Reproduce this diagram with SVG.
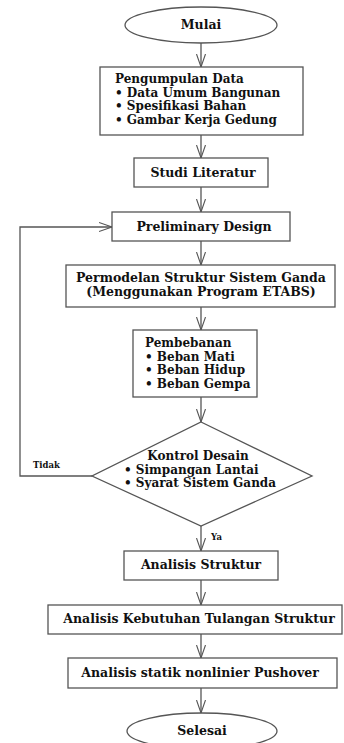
<svg xmlns="http://www.w3.org/2000/svg" width="344" height="743" viewBox="0 0 344 743">
<defs>
<marker id="arr" markerWidth="14" markerHeight="12" refX="13" refY="6" orient="auto" markerUnits="userSpaceOnUse">
<path d="M0,1.5 L13,6 L0,10.5" fill="none" stroke="#555" stroke-width="1.1"/>
</marker>
<style>
.s{fill:#fff;stroke:#555;stroke-width:1.3}
.c{fill:none;stroke:#555;stroke-width:1.3}
text{font-family:"DejaVu Serif","Liberation Serif",serif;font-weight:bold;font-size:12.5px;fill:#111}
.t{font-size:12px}
.m{text-anchor:middle}
.l{font-size:8.5px}
</style>
</defs>
<rect width="344" height="743" fill="#fff"/>
<g id="connectors">
<line class="c" x1="201" y1="43" x2="201" y2="67" marker-end="url(#arr)"/>
<line class="c" x1="201" y1="135" x2="201" y2="158" marker-end="url(#arr)"/>
<line class="c" x1="201" y1="187" x2="201" y2="212" marker-end="url(#arr)"/>
<line class="c" x1="201" y1="241" x2="201" y2="265" marker-end="url(#arr)"/>
<line class="c" x1="201" y1="307" x2="201" y2="330" marker-end="url(#arr)"/>
<line class="c" x1="201" y1="397" x2="201" y2="422" marker-end="url(#arr)"/>
<line class="c" x1="201" y1="526" x2="201" y2="551" marker-end="url(#arr)"/>
<line class="c" x1="201" y1="580" x2="201" y2="605" marker-end="url(#arr)"/>
<line class="c" x1="201" y1="634" x2="201" y2="658" marker-end="url(#arr)"/>
<line class="c" x1="201" y1="688" x2="201" y2="713" marker-end="url(#arr)"/>
<polyline class="c" points="92,476 20,476 20,227 112,227" marker-end="url(#arr)"/>
<text class="l" x="33" y="468">Tidak</text>
<text class="l" x="211" y="540">Ya</text>
</g>
<g id="mulai">
<ellipse class="s" cx="201" cy="25" rx="76" ry="18"/>
<text class="m" x="201" y="29">Mulai</text>
</g>
<g id="pengumpulan">
<rect class="s" x="100" y="67" width="203" height="68"/>
<text class="t" x="115" y="83">Pengumpulan Data</text>
<text class="t" x="115" y="96.5">• Data Umum Bangunan</text>
<text class="t" x="115" y="110">• Spesifikasi Bahan</text>
<text class="t" x="115" y="123.5">• Gambar Kerja Gedung</text>
</g>
<g id="studi">
<rect class="s" x="134" y="158" width="134" height="29"/>
<text class="m" x="203" y="177">Studi Literatur</text>
</g>
<g id="preliminary">
<rect class="s" x="112" y="212" width="178" height="29"/>
<text class="m" x="204" y="231">Preliminary Design</text>
</g>
<g id="permodelan">
<rect class="s" x="66" y="265" width="269" height="42"/>
<text class="m" x="201" y="282">Permodelan Struktur Sistem Ganda</text>
<text class="m" x="201" y="296">(Menggunakan Program ETABS)</text>
</g>
<g id="pembebanan">
<rect class="s" x="133" y="330" width="124" height="67"/>
<text class="t" x="145" y="347">Pembebanan</text>
<text class="t" x="145" y="360.5">• Beban Mati</text>
<text class="t" x="145" y="374">• Beban Hidup</text>
<text class="t" x="145" y="387.5">• Beban Gempa</text>
</g>
<g id="kontrol">
<polygon class="s" points="201,422 312,476 201,526 92,476"/>
<text class="t m" x="198" y="460">Kontrol Desain</text>
<text class="t" x="124" y="473.5">• Simpangan Lantai</text>
<text class="t" x="124" y="487">• Syarat Sistem Ganda</text>
</g>
<g id="analisis">
<rect class="s" x="124" y="551" width="154" height="29"/>
<text class="m" x="201" y="569">Analisis Struktur</text>
</g>
<g id="tulangan">
<rect class="s" x="48" y="605" width="294" height="29"/>
<text class="m" x="199" y="623">Analisis Kebutuhan Tulangan Struktur</text>
</g>
<g id="pushover">
<rect class="s" x="68" y="658" width="269" height="30"/>
<text class="m" x="200" y="677">Analisis statik nonlinier Pushover</text>
</g>
<g id="selesai">
<ellipse class="s" cx="202" cy="731" rx="75" ry="18"/>
<text class="m" x="202" y="735">Selesai</text>
</g>
</svg>
